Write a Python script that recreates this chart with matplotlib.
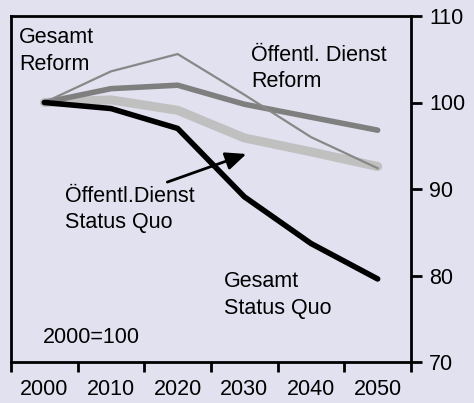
import numpy as np
import matplotlib.pyplot as plt

years = ["2000", "2010", "2020", "2030", "2040", "2050"]
gesamt_reform = [100, 103.6, 105.6, 100.9, 96.0, 92.4]
oed_reform = [100, 101.6, 102.0, 99.8, 98.3, 96.8]
oed_status_quo = [100, 100.3, 99.1, 95.9, 94.3, 92.6]
gesamt_status_quo = [100, 99.3, 97.0, 89.1, 83.7, 79.6]
yticks = [70, 80, 90, 100, 110]

bg = "#e1e1f0"
fs = 15.5
plt.rcParams['font.family'] = ['Liberation Sans', 'DejaVu Sans']
plt.rcParams['font.size'] = fs

fig = plt.figure(figsize=(4.74, 4.03), dpi=100, facecolor=bg)
ax = fig.add_axes([11 / 474, 1 - 362 / 403, 400 / 474, 346 / 403], facecolor=bg)

x = np.arange(len(years))
ax.plot(x, oed_status_quo, color="#c0c0c0", lw=6.5, solid_capstyle="round", zorder=2)
ax.plot(x, oed_reform, color="#7f7f7f", lw=4, solid_capstyle="round", zorder=3)
ax.plot(x, gesamt_reform, color="#888888", lw=1.6, zorder=4)
ax.plot(x, gesamt_status_quo, color="black", lw=4, solid_capstyle="round", zorder=5)

ax.set_xlim(-0.5, len(years) - 0.5)
ax.set_ylim(70, 110)
ax.yaxis.tick_right()
ax.set_yticks(yticks)
ax.tick_params(axis="y", direction="out", length=8, width=2, pad=5, labelsize=fs)
ax.set_xticks(x)
ax.set_xticklabels(years)
ax.set_xticks(np.arange(-0.5, len(years)), minor=True)
ax.tick_params(axis="x", which="major", length=0, pad=12, labelsize=fs)
ax.tick_params(axis="x", which="minor", direction="out", length=7, width=2)
for s in ax.spines.values():
    s.set_linewidth(2)

labels = [
    (-0.375, 107.46, "Gesamt"), (-0.375, 104.34, "Reform"),
    (3.105, 105.49, "Öffentl. Dienst"), (3.105, 102.43, "Reform"),
    (0.315, 89.08, "Öffentl.Dienst"), (0.315, 86.07, "Status Quo"),
    (2.70, 79.25, "Gesamt"), (2.70, 76.24, "Status Quo"),
    (-0.015, 72.89, "2000=100"),
]
for tx, ty, s in labels:
    ax.text(tx, ty, s, ha="left", va="center")

ax.annotate("", xy=(3.03, 94.05), xytext=(1.845, 90.8),
            arrowprops=dict(arrowstyle="-|>,head_length=0.8,head_width=0.35",
                            color="black", lw=2, shrinkA=0, shrinkB=0))

fig.savefig("out.png", dpi=100, facecolor=bg)
